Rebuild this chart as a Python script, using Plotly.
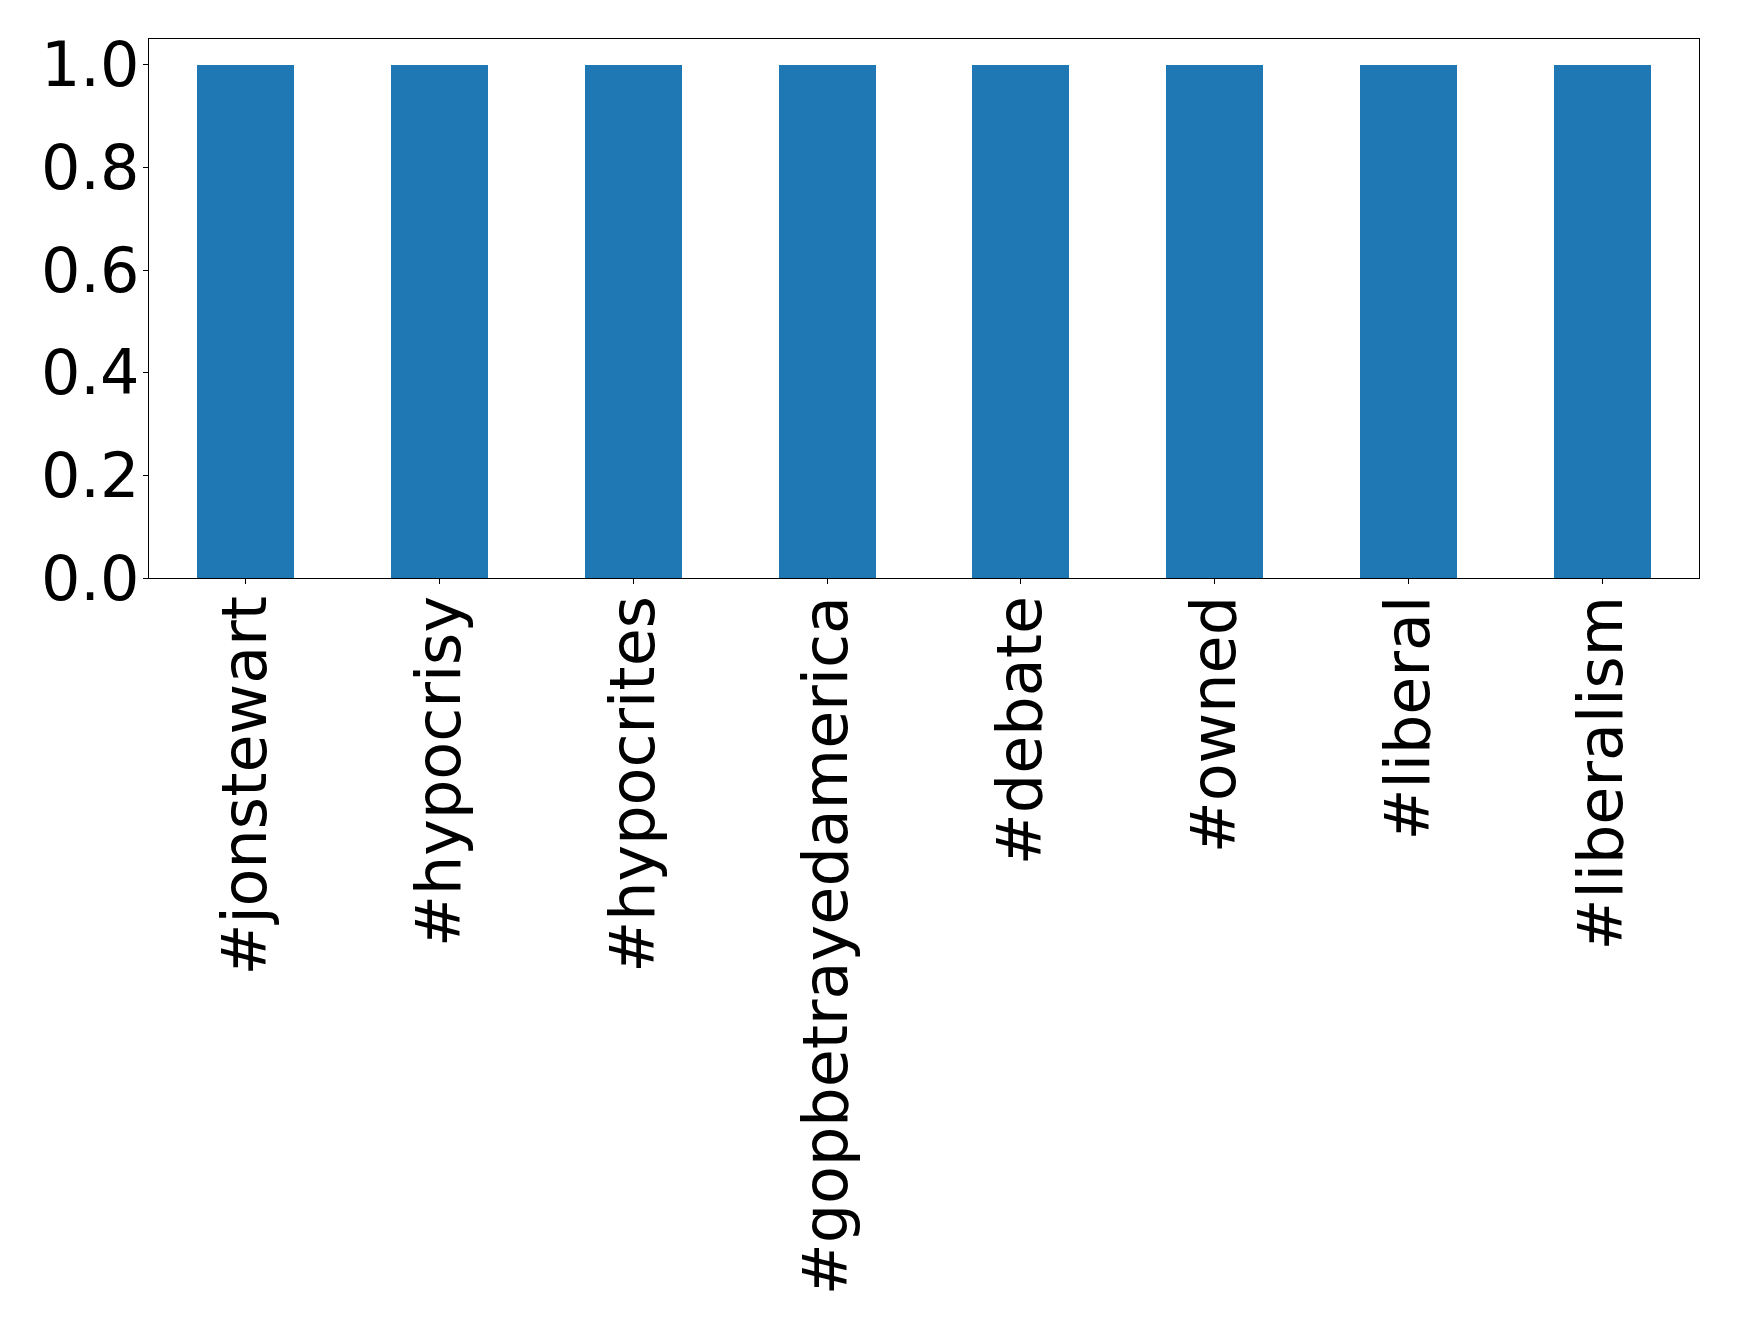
import plotly.graph_objects as go

categories = ["#jonstewart", "#hypocrisy", "#hypocrites", "#gopbetrayedamerica",
              "#debate", "#owned", "#liberal", "#liberalism"]
values = [1, 1, 1, 1, 1, 1, 1, 1]
ytick_vals = [0.0, 0.2, 0.4, 0.6, 0.8, 1.0]
ytick_text = ["0.0", "0.2", "0.4", "0.6", "0.8", "1.0"]

fig = go.Figure(go.Bar(x=categories, y=values, width=0.5,
                       marker=dict(color="#1f77b4", line=dict(width=0))))

fig.update_layout(
    width=1731, height=1325,
    margin=dict(l=141, r=40, t=31, b=755),
    plot_bgcolor="white", paper_bgcolor="white",
    font=dict(family="DejaVu Sans", size=62, color="black"),
    showlegend=False,
    bargap=0,
)
fig.update_xaxes(
    type="category", range=[-0.5, 7.5], tickangle=-90, automargin=False,
    showline=True, linecolor="black", linewidth=1.2, mirror=True,
    ticks="outside", ticklen=5, tickcolor="black", tickwidth=1.2,
    showgrid=False, ticklabelstandoff=-13,
    tickfont=dict(family="DejaVu Sans", size=62, color="black"),
)
fig.update_yaxes(
    range=[0, 1.05], tickvals=ytick_vals, ticktext=ytick_text, automargin=False,
    showline=True, linecolor="black", linewidth=1.2, mirror=True,
    ticks="outside", ticklen=5, tickcolor="black", tickwidth=1.2,
    showgrid=False, zeroline=False, ticklabelstandoff=-9,
    tickfont=dict(family="DejaVu Sans", size=62, color="black"),
)
fig.write_html("out.html")
